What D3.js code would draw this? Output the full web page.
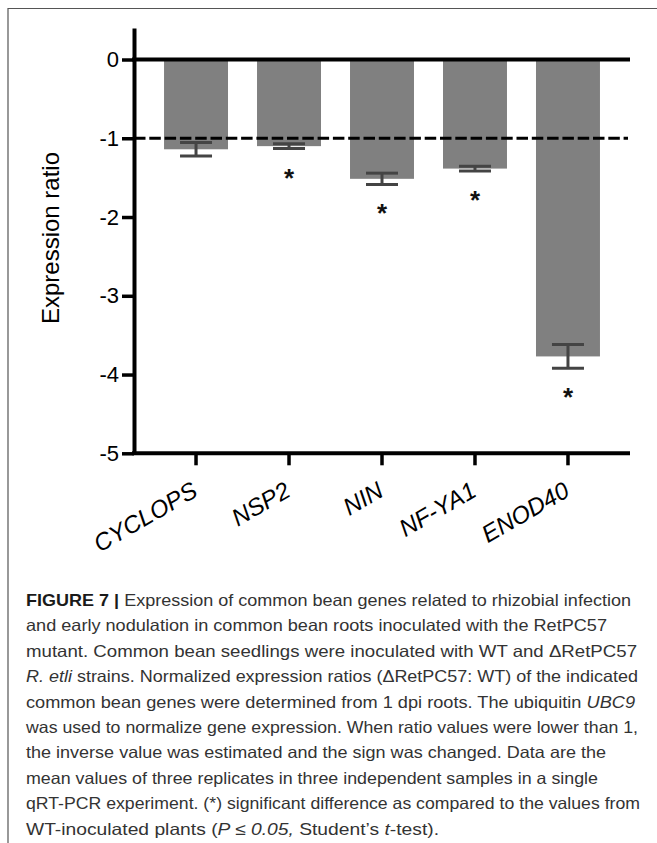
<!DOCTYPE html>
<html>
<head>
<meta charset="utf-8">
<script src="https://cdn.jsdelivr.net/npm/d3@7"></script>
<style>
  body { margin: 0; background: #fff; }
  svg { display: block; font-family: "Liberation Sans", Arial, sans-serif; }
</style>
</head>
<body>
<div id="chart"></div>
<script>
// genes and their expression ratios (mean and error)
var genes = ["CYCLOPS", "NSP2", "NIN", "NF-YA1", "ENOD40"];
var ratios = [-1.14, -1.10, -1.515, -1.385, -3.77];
var errors = [0.085, 0.03, 0.072, 0.03, 0.15];
var significant = [false, true, true, true, true];
var yTicks = [0, -1, -2, -3, -4, -5];
var threshold = -1;

var data = genes.map(function(g, i) {
  return {gene: g, value: ratios[i], err: errors[i], sig: significant[i]};
});

// caption lines: [text, style] pieces and right end of each line
var captionLines = [
  [[["FIGURE 7 | ", "b"], ["Expression of common bean genes related to rhizobial infection", ""]], 631],
  [[["and early nodulation in common bean roots inoculated with the RetPC57", ""]], 607],
  [[["mutant. Common bean seedlings were inoculated with WT and \u0394RetPC57", ""]], 637],
  [[["R. etli", "i"], [" strains. Normalized expression ratios (\u0394RetPC57: WT) of the indicated", ""]], 638],
  [[["common bean genes were determined from 1 dpi roots. The ubiquitin ", ""], ["UBC9", "i"]], 635],
  [[["was used to normalize gene expression. When ratio values were lower than 1,", ""]], 638],
  [[["the inverse value was estimated and the sign was changed. Data are the", ""]], 606],
  [[["mean values of three replicates in three independent samples in a single", ""]], 598],
  [[["qRT-PCR experiment. (*) significant difference as compared to the values from", ""]], 640],
  [[["WT-inoculated plants (", ""], ["P \u2264 0.05,", "i"], [" Student\u2019s ", ""], ["t", "i"], ["-test).", ""]], 439]
];

var W = 657, H = 843;

var svg = d3.select("#chart")
  .append("svg")
    .attr("width", W)
    .attr("height", H);

// frame around the figure (cropped at right and bottom)
svg.append("path")
  .attr("d", "M8,843V8.5H657")
  .attr("fill", "none")
  .attr("stroke", "#555")
  .attr("stroke-width", 1.2);

// scales
var x = d3.scaleBand()
  .domain(genes)
  .range([134, 630])
  .paddingInner(0.312)
  .paddingOuter(0.323);

var y = d3.scaleLinear()
  .domain([-5, 0.4])
  .range([453.3, 28]);

// bars
svg.selectAll("rect.bar")
  .data(data)
  .enter()
  .append("rect")
    .attr("class", "bar")
    .attr("x", function(d) { return x(d.gene); })
    .attr("y", y(0))
    .attr("width", x.bandwidth())
    .attr("height", function(d) { return y(d.value) - y(0); })
    .attr("fill", "#808080");

// error bars
var capW = 32;
var eb = svg.selectAll("g.err")
  .data(data)
  .enter()
  .append("g")
    .attr("class", "err")
    .attr("stroke", "#444")
    .attr("stroke-width", 3);

eb.append("line")
  .attr("x1", function(d) { return x(d.gene) + x.bandwidth() / 2; })
  .attr("x2", function(d) { return x(d.gene) + x.bandwidth() / 2; })
  .attr("y1", function(d) { return y(d.value + d.err); })
  .attr("y2", function(d) { return y(d.value - d.err); });

eb.selectAll("line.cap")
  .data(function(d) { return [d.value + d.err, d.value - d.err].map(function(v) { return {gene: d.gene, v: v}; }); })
  .enter()
  .append("line")
    .attr("class", "cap")
    .attr("x1", function(d) { return x(d.gene) + x.bandwidth() / 2 - capW / 2; })
    .attr("x2", function(d) { return x(d.gene) + x.bandwidth() / 2 + capW / 2; })
    .attr("y1", function(d) { return y(d.v); })
    .attr("y2", function(d) { return y(d.v); });

// significance stars
svg.selectAll("text.star")
  .data(data.filter(function(d) { return d.sig; }))
  .enter()
  .append("text")
    .attr("class", "star")
    .attr("x", function(d) { return x(d.gene) + x.bandwidth() / 2; })
    .attr("y", function(d) { return y(d.value - d.err) + 23 + 15; })
    .attr("text-anchor", "middle")
    .attr("font-size", 26)
    .attr("font-weight", "bold")
    .attr("fill", "#111")
    .text("*");

// dashed reference line at -1
svg.append("line")
  .attr("x1", 134)
  .attr("x2", 628)
  .attr("y1", y(threshold))
  .attr("y2", y(threshold))
  .attr("stroke", "#000")
  .attr("stroke-width", 3)
  .attr("stroke-dasharray", "11.5,3.8");

// zero line
svg.append("line")
  .attr("x1", 132)
  .attr("x2", 630)
  .attr("y1", y(0))
  .attr("y2", y(0))
  .attr("stroke", "#000")
  .attr("stroke-width", 4);

// y axis
var yAxis = svg.append("g")
  .attr("transform", "translate(134,0)")
  .call(d3.axisLeft(y)
    .tickValues(yTicks)
    .tickFormat(function(d) { return String(d); })
    .tickSize(12)
    .tickSizeOuter(0)
    .tickPadding(3));

yAxis.select(".domain").attr("stroke", "#000").attr("stroke-width", 4);
yAxis.selectAll(".tick line").attr("stroke", "#000").attr("stroke-width", 3.5);
yAxis.selectAll(".tick text")
  .attr("font-size", 22)
  .attr("font-family", "Liberation Sans, Arial, sans-serif")
  .attr("fill", "#000");

// x axis
var xAxis = svg.append("g")
  .attr("transform", "translate(0," + y(-5) + ")")
  .call(d3.axisBottom(x)
    .tickSize(12)
    .tickSizeOuter(0));

xAxis.select(".domain").attr("stroke", "#000").attr("stroke-width", 4)
  .attr("d", "M132,0H630");
xAxis.selectAll(".tick line").attr("stroke", "#000").attr("stroke-width", 3.5);
xAxis.selectAll(".tick text")
  .attr("font-size", 24)
  .attr("font-style", "italic")
  .attr("font-family", "Liberation Sans, Arial, sans-serif")
  .attr("fill", "#000")
  .attr("text-anchor", "end")
  .attr("y", 0)
  .attr("dy", 0)
  .attr("transform", "translate(3,42) rotate(-30)");

// y axis title
svg.append("text")
  .attr("transform", "translate(59,238) rotate(-90)")
  .attr("text-anchor", "middle")
  .attr("font-size", 24)
  .attr("fill", "#000")
  .text("Expression ratio");

// caption
var cap = svg.append("g")
  .attr("font-family", "Liberation Sans, Arial, sans-serif")
  .attr("font-size", 16.5)
  .attr("fill", "#333");

captionLines.forEach(function(line, i) {
  var t = cap.append("text")
    .attr("x", 26)
    .attr("y", 606 + i * 25.4)
    .attr("textLength", line[1] - 26)
    .attr("lengthAdjust", "spacingAndGlyphs");
  line[0].forEach(function(p) {
    var s = t.append("tspan").text(p[0]);
    if (p[1] === "b") s.attr("font-weight", "bold").attr("fill", "#1a1a1a");
    if (p[1] === "i") s.attr("font-style", "italic");
  });
});
</script>
</body>
</html>
